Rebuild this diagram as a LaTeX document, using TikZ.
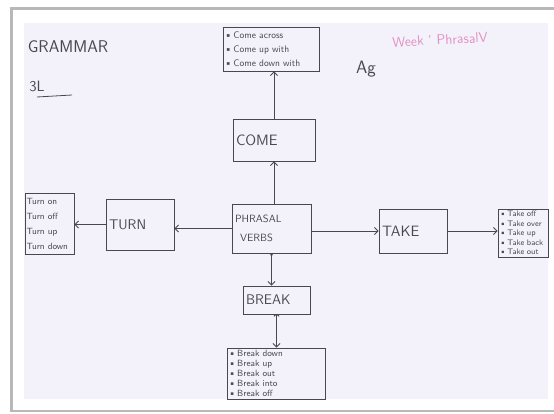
\documentclass[tikz,border=0pt]{standalone}
\usetikzlibrary{arrows.meta}
\renewcommand{\familydefault}{\sfdefault}
\definecolor{paper}{HTML}{F3F2FA}
\definecolor{ink}{HTML}{48484F}
\definecolor{pinkink}{HTML}{E58FC4}
\definecolor{framegray}{HTML}{B8B8B8}
\begin{document}
\begin{tikzpicture}[x=1pt,y=-1pt,
  box/.style={draw=ink,line width=0.9pt,text=ink,align=left,inner sep=3pt,anchor=center},
  listbox/.style={box,inner sep=1.5pt},
  arr/.style={draw=ink,line width=0.9pt,-{Straight Barb[length=3.5pt,width=7pt]}},
  hand/.style={text=ink,inner sep=0pt}]
\useasboundingbox (0,0) rectangle (554,414);
\fill[white] (0,0) rectangle (554,414);
\draw[framegray,line width=2.5pt] (554,8.5) -- (11.5,8.5) -- (11.5,411) -- (554,411);
\fill[paper] (24,23) rectangle (548,399);
% titles
\node[hand,font=\fontsize{17}{17}\selectfont] (grammar) at (68,47) {GRAMMAR};
\node[hand,font=\fontsize{15}{15}\selectfont] (level) at (37,86) {3L};
\coordinate (ul1) at (37,97);
\coordinate (ul2) at (72,95);
\draw[ink,line width=0.8pt] (ul1) -- (ul2);
\node[hand,font=\fontsize{18}{18}\selectfont] (ag) at (366,69) {Ag};
\node[text=pinkink,inner sep=0pt,font=\fontsize{14}{14}\selectfont,rotate=3] (week) at (440,40) {Week ' PhrasalV};
% boxes
\node[listbox,text width=93pt,minimum height=44pt,font=\fontsize{9.5}{14}\selectfont] (comelist) at (271,49)
  {\textbullet\,Come across\\\textbullet\,Come up with\\\textbullet\,Come down with};
\node[box,text width=76pt,minimum height=42pt,font=\fontsize{15}{15}\selectfont] (come) at (274,140) {COME};
\node[box,text width=73pt,minimum height=49pt,font=\fontsize{10.5}{10.5}\selectfont] (pv) at (271.5,228.5)
  {PHRASAL\\[8pt]\hspace*{5pt}VERBS};
\node[box,text width=62pt,minimum height=51pt,font=\fontsize{14}{14}\selectfont] (turn) at (140,224.5) {TURN};
\node[listbox,text width=46pt,minimum height=61pt,font=\fontsize{9}{15}\selectfont] (turnlist) at (49.5,223.5)
  {Turn on\\Turn off\\Turn up\\Turn down};
\node[box,text width=62pt,minimum height=44pt,font=\fontsize{15}{15}\selectfont] (take) at (413,231) {TAKE};
\node[listbox,text width=47pt,minimum height=48pt,font=\fontsize{8}{9.4}\selectfont] (takelist) at (523,233)
  {\textbullet\,Take off\\\textbullet\,Take over\\\textbullet\,Take up\\\textbullet\,Take back\\\textbullet\,Take out};
\node[box,text width=61pt,minimum height=28pt,font=\fontsize{14}{14}\selectfont] (brk) at (276.5,300) {BREAK};
\node[listbox,text width=95pt,minimum height=51pt,font=\fontsize{9}{10}\selectfont] (brklist) at (276,373.5)
  {\textbullet\,Break down\\\textbullet\,Break up\\\textbullet\,Break out\\\textbullet\,Break into\\\textbullet\,Break off};
% connectors
\draw[arr] (come.north) -- (come.north |- comelist.south);
\draw[arr] (pv.north -| come.south) -- (come.south);
\draw[arr] (pv.west) -- (pv.west -| turn.east);
\draw[arr] (turn.west) -- (turn.west -| turnlist.east);
\draw[arr] (take.west -| pv.east) -- (take.west);
\draw[arr] (take.east) -- (take.east -| takelist.west);
\draw[arr,{Circle[length=2.5pt]}-{Straight Barb[length=3.5pt,width=7pt]}] (pv.south) -- (pv.south |- brk.north);
\draw[arr,{Arc Barb[length=2pt,width=6pt]}-{Straight Barb[length=3.5pt,width=7pt]}] (brk.south) -- (brk.south |- brklist.north);
\end{tikzpicture}
\end{document}
